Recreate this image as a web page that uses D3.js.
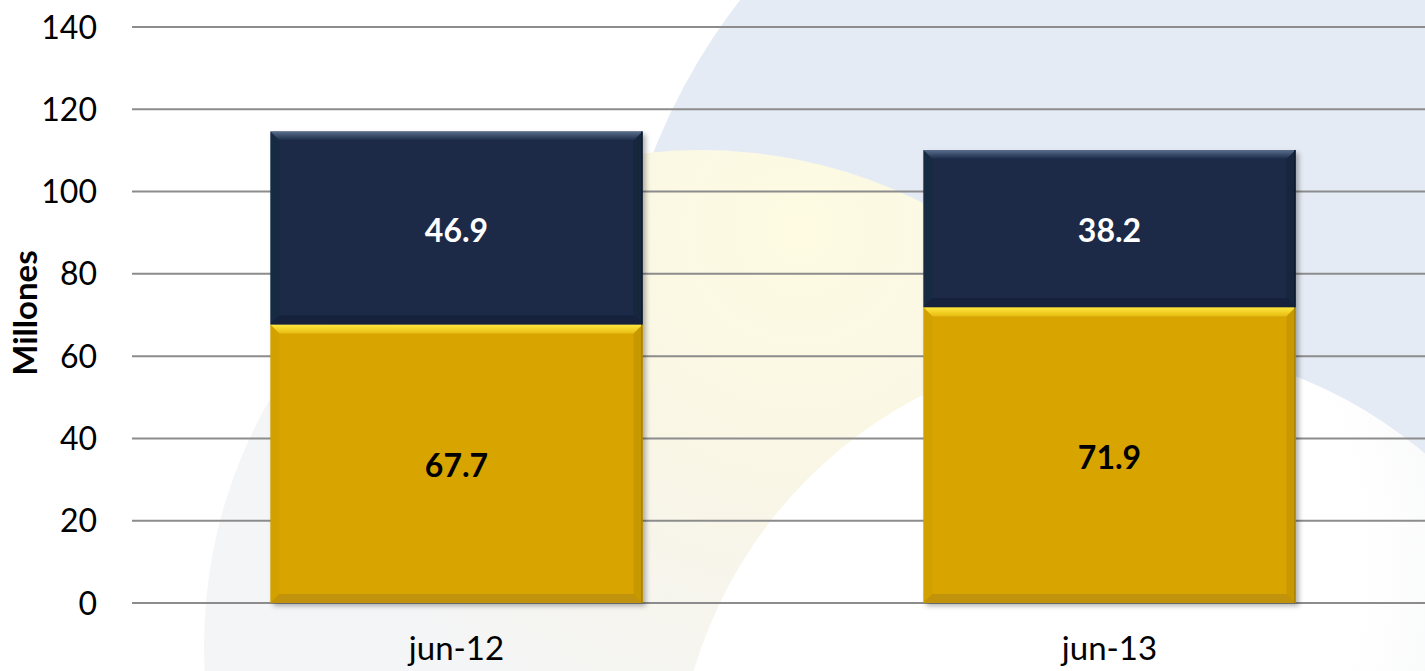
<!DOCTYPE html>
<html><head><meta charset="utf-8">
<script src="https://cdn.jsdelivr.net/npm/d3@7"></script>
<style>html,body{margin:0;padding:0;background:#fff;overflow:hidden}svg{display:block}</style>
</head><body>
<svg id="chart" width="1425" height="671"></svg>
<script>
const categories = ["jun-12", "jun-13"];
const serieInferior = [67.7, 71.9];
const serieSuperior = [46.9, 38.2];
const yTicks = [0, 20, 40, 60, 80, 100, 120, 140];
const yTitle = "Millones";

const W = 1425, H = 671;
const svg = d3.select("#chart");
const defs = svg.append("defs");

// background decorations
const gBeige = defs.append("radialGradient").attr("id","gBeige").attr("gradientUnits","userSpaceOnUse")
  .attr("cx",800).attr("cy",230).attr("r",560);
gBeige.append("stop").attr("offset","0%").attr("stop-color","#FEFBE2");
gBeige.append("stop").attr("offset","45%").attr("stop-color","#F9F6E6");
gBeige.append("stop").attr("offset","75%").attr("stop-color","#F6F5EF");
gBeige.append("stop").attr("offset","100%").attr("stop-color","#F4F5F7");

const gWhite = defs.append("radialGradient").attr("id","gWhite").attr("gradientUnits","userSpaceOnUse")
  .attr("cx",1000).attr("cy",560).attr("r",520);
gWhite.append("stop").attr("offset","0%").attr("stop-color","#FFFFFF");
gWhite.append("stop").attr("offset","70%").attr("stop-color","#FFFFFF");
gWhite.append("stop").attr("offset","100%").attr("stop-color","#F5F6F8");

const bg = svg.append("g");
bg.append("rect").attr("width",W).attr("height",H).attr("fill","#fff");
bg.append("circle").attr("cx",1230).attr("cy",380).attr("r",620).attr("fill","#E5EBF5");
bg.append("circle").attr("cx",700).attr("cy",646).attr("r",496).attr("fill","url(#gBeige)");
bg.append("circle").attr("cx",1130).attr("cy",800).attr("r",455).attr("fill","url(#gWhite)");

const y = d3.scaleLinear().domain([0,140]).range([603,27]);
const x = d3.scaleBand().domain(categories).range([130,1436]).paddingInner(0.43).paddingOuter(0.215);

// gridlines
svg.append("g").selectAll("line").data(yTicks).join("line")
  .attr("x1",132).attr("x2",W)
  .attr("y1",d=>y(d)).attr("y2",d=>y(d))
  .attr("stroke","#8C8C8C").attr("stroke-width",2);

// y tick labels
svg.append("g").selectAll("text").data(yTicks).join("text")
  .attr("x",97).attr("y",d=>y(d)).attr("dy","0.36em")
  .attr("text-anchor","end")
  .attr("font-family","Lato, 'Open Sans', sans-serif").attr("font-size",32).attr("fill","#000")
  .text(d=>d);

// y title
svg.append("text")
  .attr("transform","translate(37,313) rotate(-90)")
  .attr("text-anchor","middle")
  .attr("font-family","Lato, 'Open Sans', sans-serif").attr("font-weight","bold").attr("font-size",33).attr("fill","#000")
  .text(yTitle);

// shadow filter
const f = defs.append("filter").attr("id","shadow").attr("x","-10%").attr("y","-10%").attr("width","130%").attr("height","130%");
f.append("feDropShadow").attr("dx",3).attr("dy",3).attr("stdDeviation",2.5).attr("flood-color","#000").attr("flood-opacity",0.3);

function grad(id, c1, c2){
  const g = defs.append("linearGradient").attr("id",id).attr("x1",0).attr("y1",0).attr("x2",0).attr("y2",1);
  g.append("stop").attr("offset","0%").attr("stop-color",c1);
  g.append("stop").attr("offset","100%").attr("stop-color",c2);
}
grad("navyTop","#5A6E8C","#1A2B47");
grad("goldTop","#FFEA40","#E8BC10");

const series = [
  {vals: serieInferior, base: i=>0, color:"#D8A506", topGrad:"url(#goldTop)", dark:"#A98107", side:"#C99A06", label:"#000"},
  {vals: serieSuperior, base: i=>serieInferior[i], color:"#1A2B47", topGrad:"url(#navyTop)", dark:"#0F1B2E", side:"#16253D", label:"#fff"}
];

const bars = svg.append("g").attr("filter","url(#shadow)");
const B = 9;
series.forEach(s=>{
  categories.forEach((c,i)=>{
    const x0 = x(c), x1 = x(c)+x.bandwidth();
    const v0 = s.base(i), v1 = v0 + s.vals[i];
    const yT = y(v1), yB = y(v0);
    const g = bars.append("g");
    g.append("rect").attr("x",x0).attr("y",yT).attr("width",x1-x0).attr("height",yB-yT).attr("fill",s.color);
    g.append("polygon").attr("points",[[x0,yT],[x1,yT],[x1-B,yT+B],[x0+B,yT+B]].join(" ")).attr("fill",s.topGrad);
    g.append("polygon").attr("points",[[x0,yT],[x0+B,yT+B],[x0+B,yB-B],[x0,yB]].join(" ")).attr("fill",s.side).attr("opacity",0.35);
    g.append("polygon").attr("points",[[x1,yT],[x1-B,yT+B],[x1-B,yB-B],[x1,yB]].join(" ")).attr("fill",s.dark).attr("opacity",0.35);
    g.append("polygon").attr("points",[[x0,yB],[x0+B,yB-B],[x1-B,yB-B],[x1,yB]].join(" ")).attr("fill",s.dark).attr("opacity",0.5);
    g.append("line").attr("x1",x1-0.75).attr("x2",x1-0.75).attr("y1",yT).attr("y2",yB).attr("stroke",s.dark).attr("stroke-width",1.5);
  });
});

// value labels
const labels = svg.append("g");
series.forEach(s=>{
  categories.forEach((c,i)=>{
    const v0 = s.base(i), v1 = v0 + s.vals[i];
    labels.append("text")
      .attr("x", x(c)+x.bandwidth()/2)
      .attr("y", (y(v0)+y(v1))/2 + 2).attr("dy","0.36em")
      .attr("text-anchor","middle")
      .attr("font-family","Lato, 'Open Sans', sans-serif").attr("font-weight","bold").attr("font-size",32)
      .attr("fill", s.label)
      .text(d3.format(".1f")(s.vals[i]));
  });
});

// x labels
svg.append("g").selectAll("text").data(categories).join("text")
  .attr("x",d=>x(d)+x.bandwidth()/2).attr("y",660)
  .attr("text-anchor","middle")
  .attr("font-family","Lato, 'Open Sans', sans-serif").attr("font-size",33).attr("fill","#000")
  .text(d=>d);
</script>
</body></html>
